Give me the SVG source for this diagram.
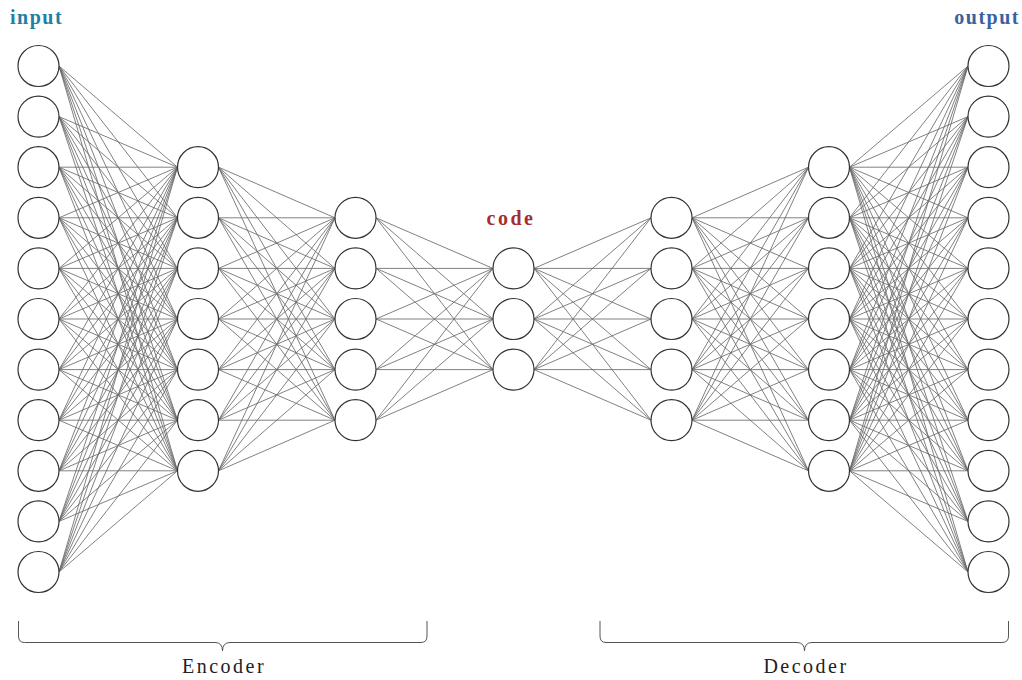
<svg xmlns="http://www.w3.org/2000/svg" xmlns:xlink="http://www.w3.org/1999/xlink" width="1022" height="680" viewBox="0 0 1022 680">
<style>
.n{fill:#fff;stroke:#333;stroke-width:1.2}
.e{fill:none;stroke:#6a6a6a;stroke-width:0.85}
.b{fill:none;stroke:#555;stroke-width:1}
.t{font-family:"Liberation Serif","DejaVu Serif",serif;font-size:20px;letter-spacing:1.5px}
.lab{font-family:"Liberation Serif","DejaVu Serif",serif;font-size:20px;letter-spacing:2.5px;fill:#222}
</style>
<rect width="1022" height="680" fill="#fff"/>
<g id="connectors">
<g id="enc">
<path class="e" d="M59 66L177.5 167.2M59 66L177.5 217.8M59 66L177.5 268.4M59 66L177.5 319M59 66L177.5 369.6M59 66L177.5 420.2M59 66L177.5 470.8
M59 116.6L177.5 167.2M59 116.6L177.5 217.8M59 116.6L177.5 268.4M59 116.6L177.5 319M59 116.6L177.5 369.6M59 116.6L177.5 420.2M59 116.6L177.5 470.8
M59 167.2L177.5 167.2M59 167.2L177.5 217.8M59 167.2L177.5 268.4M59 167.2L177.5 319M59 167.2L177.5 369.6M59 167.2L177.5 420.2M59 167.2L177.5 470.8
M59 217.8L177.5 167.2M59 217.8L177.5 217.8M59 217.8L177.5 268.4M59 217.8L177.5 319M59 217.8L177.5 369.6M59 217.8L177.5 420.2M59 217.8L177.5 470.8
M59 268.4L177.5 167.2M59 268.4L177.5 217.8M59 268.4L177.5 268.4M59 268.4L177.5 319M59 268.4L177.5 369.6M59 268.4L177.5 420.2M59 268.4L177.5 470.8
M59 319L177.5 167.2M59 319L177.5 217.8M59 319L177.5 268.4M59 319L177.5 319M59 319L177.5 369.6M59 319L177.5 420.2M59 319L177.5 470.8
M59 369.6L177.5 167.2M59 369.6L177.5 217.8M59 369.6L177.5 268.4M59 369.6L177.5 319M59 369.6L177.5 369.6M59 369.6L177.5 420.2M59 369.6L177.5 470.8
M59 420.2L177.5 167.2M59 420.2L177.5 217.8M59 420.2L177.5 268.4M59 420.2L177.5 319M59 420.2L177.5 369.6M59 420.2L177.5 420.2M59 420.2L177.5 470.8
M59 470.8L177.5 167.2M59 470.8L177.5 217.8M59 470.8L177.5 268.4M59 470.8L177.5 319M59 470.8L177.5 369.6M59 470.8L177.5 420.2M59 470.8L177.5 470.8
M59 521.4L177.5 167.2M59 521.4L177.5 217.8M59 521.4L177.5 268.4M59 521.4L177.5 319M59 521.4L177.5 369.6M59 521.4L177.5 420.2M59 521.4L177.5 470.8
M59 572L177.5 167.2M59 572L177.5 217.8M59 572L177.5 268.4M59 572L177.5 319M59 572L177.5 369.6M59 572L177.5 420.2M59 572L177.5 470.8"/>
<path class="e" d="M218.5 167.2L335 217.8M218.5 167.2L335 268.4M218.5 167.2L335 319M218.5 167.2L335 369.6M218.5 167.2L335 420.2
M218.5 217.8L335 217.8M218.5 217.8L335 268.4M218.5 217.8L335 319M218.5 217.8L335 369.6M218.5 217.8L335 420.2
M218.5 268.4L335 217.8M218.5 268.4L335 268.4M218.5 268.4L335 319M218.5 268.4L335 369.6M218.5 268.4L335 420.2
M218.5 319L335 217.8M218.5 319L335 268.4M218.5 319L335 319M218.5 319L335 369.6M218.5 319L335 420.2
M218.5 369.6L335 217.8M218.5 369.6L335 268.4M218.5 369.6L335 319M218.5 369.6L335 369.6M218.5 369.6L335 420.2
M218.5 420.2L335 217.8M218.5 420.2L335 268.4M218.5 420.2L335 319M218.5 420.2L335 369.6M218.5 420.2L335 420.2
M218.5 470.8L335 217.8M218.5 470.8L335 268.4M218.5 470.8L335 319M218.5 470.8L335 369.6M218.5 470.8L335 420.2"/>
<path class="e" d="M376 217.8L493 268.4M376 217.8L493 319M376 217.8L493 369.6
M376 268.4L493 268.4M376 268.4L493 319M376 268.4L493 369.6
M376 319L493 268.4M376 319L493 319M376 319L493 369.6
M376 369.6L493 268.4M376 369.6L493 319M376 369.6L493 369.6
M376 420.2L493 268.4M376 420.2L493 319M376 420.2L493 369.6"/>
</g>
<use xlink:href="#enc" href="#enc" transform="matrix(-1 0 0 1 1027 0)"/>
</g>
<g id="input-layer">
<g id="in1"><circle class="n" cx="38.5" cy="66" r="20.5"/></g>
<g id="in2"><circle class="n" cx="38.5" cy="116.6" r="20.5"/></g>
<g id="in3"><circle class="n" cx="38.5" cy="167.2" r="20.5"/></g>
<g id="in4"><circle class="n" cx="38.5" cy="217.8" r="20.5"/></g>
<g id="in5"><circle class="n" cx="38.5" cy="268.4" r="20.5"/></g>
<g id="in6"><circle class="n" cx="38.5" cy="319" r="20.5"/></g>
<g id="in7"><circle class="n" cx="38.5" cy="369.6" r="20.5"/></g>
<g id="in8"><circle class="n" cx="38.5" cy="420.2" r="20.5"/></g>
<g id="in9"><circle class="n" cx="38.5" cy="470.8" r="20.5"/></g>
<g id="in10"><circle class="n" cx="38.5" cy="521.4" r="20.5"/></g>
<g id="in11"><circle class="n" cx="38.5" cy="572" r="20.5"/></g>
</g>
<g id="enc-hidden1">
<g id="h1a"><circle class="n" cx="198" cy="167.2" r="20.5"/></g>
<g id="h1b"><circle class="n" cx="198" cy="217.8" r="20.5"/></g>
<g id="h1c"><circle class="n" cx="198" cy="268.4" r="20.5"/></g>
<g id="h1d"><circle class="n" cx="198" cy="319" r="20.5"/></g>
<g id="h1e"><circle class="n" cx="198" cy="369.6" r="20.5"/></g>
<g id="h1f"><circle class="n" cx="198" cy="420.2" r="20.5"/></g>
<g id="h1g"><circle class="n" cx="198" cy="470.8" r="20.5"/></g>
</g>
<g id="enc-hidden2">
<g id="h2a"><circle class="n" cx="355.5" cy="217.8" r="20.5"/></g>
<g id="h2b"><circle class="n" cx="355.5" cy="268.4" r="20.5"/></g>
<g id="h2c"><circle class="n" cx="355.5" cy="319" r="20.5"/></g>
<g id="h2d"><circle class="n" cx="355.5" cy="369.6" r="20.5"/></g>
<g id="h2e"><circle class="n" cx="355.5" cy="420.2" r="20.5"/></g>
</g>
<g id="code-layer">
<g id="c1"><circle class="n" cx="513.5" cy="268.4" r="20.5"/></g>
<g id="c2"><circle class="n" cx="513.5" cy="319" r="20.5"/></g>
<g id="c3"><circle class="n" cx="513.5" cy="369.6" r="20.5"/></g>
</g>
<g id="dec-hidden1">
<g id="d1a"><circle class="n" cx="671.5" cy="217.8" r="20.5"/></g>
<g id="d1b"><circle class="n" cx="671.5" cy="268.4" r="20.5"/></g>
<g id="d1c"><circle class="n" cx="671.5" cy="319" r="20.5"/></g>
<g id="d1d"><circle class="n" cx="671.5" cy="369.6" r="20.5"/></g>
<g id="d1e"><circle class="n" cx="671.5" cy="420.2" r="20.5"/></g>
</g>
<g id="dec-hidden2">
<g id="d2a"><circle class="n" cx="829" cy="167.2" r="20.5"/></g>
<g id="d2b"><circle class="n" cx="829" cy="217.8" r="20.5"/></g>
<g id="d2c"><circle class="n" cx="829" cy="268.4" r="20.5"/></g>
<g id="d2d"><circle class="n" cx="829" cy="319" r="20.5"/></g>
<g id="d2e"><circle class="n" cx="829" cy="369.6" r="20.5"/></g>
<g id="d2f"><circle class="n" cx="829" cy="420.2" r="20.5"/></g>
<g id="d2g"><circle class="n" cx="829" cy="470.8" r="20.5"/></g>
</g>
<g id="output-layer">
<g id="out1"><circle class="n" cx="988.5" cy="66" r="20.5"/></g>
<g id="out2"><circle class="n" cx="988.5" cy="116.6" r="20.5"/></g>
<g id="out3"><circle class="n" cx="988.5" cy="167.2" r="20.5"/></g>
<g id="out4"><circle class="n" cx="988.5" cy="217.8" r="20.5"/></g>
<g id="out5"><circle class="n" cx="988.5" cy="268.4" r="20.5"/></g>
<g id="out6"><circle class="n" cx="988.5" cy="319" r="20.5"/></g>
<g id="out7"><circle class="n" cx="988.5" cy="369.6" r="20.5"/></g>
<g id="out8"><circle class="n" cx="988.5" cy="420.2" r="20.5"/></g>
<g id="out9"><circle class="n" cx="988.5" cy="470.8" r="20.5"/></g>
<g id="out10"><circle class="n" cx="988.5" cy="521.4" r="20.5"/></g>
<g id="out11"><circle class="n" cx="988.5" cy="572" r="20.5"/></g>
</g>
<g id="labels">
<text class="t" x="10" y="24" font-weight="bold" fill="#1f80a8">input</text>
<text class="t" x="1020" y="24" font-weight="bold" fill="#3a62a0" text-anchor="end">output</text>
<text class="t" x="511" y="225" font-weight="bold" fill="#a82c2c" text-anchor="middle" style="letter-spacing:2.5px">code</text>
</g>
<g id="encoder-brace">
<path class="b" d="M18.5 621V636Q18.5 642.5 24.5 642.5H215Q222.5 642.5 222.5 651Q222.5 642.5 230 642.5H421Q427 642.5 427 636V621"/>
<text class="lab" x="224" y="673" text-anchor="middle">Encoder</text>
</g>
<g id="decoder-brace">
<path class="b" d="M600 621V636Q600 642.5 606 642.5H797Q804.5 642.5 804.5 651Q804.5 642.5 812 642.5H1002Q1008.5 642.5 1008.5 636V621"/>
<text class="lab" x="806" y="673" text-anchor="middle">Decoder</text>
</g>
</svg>
